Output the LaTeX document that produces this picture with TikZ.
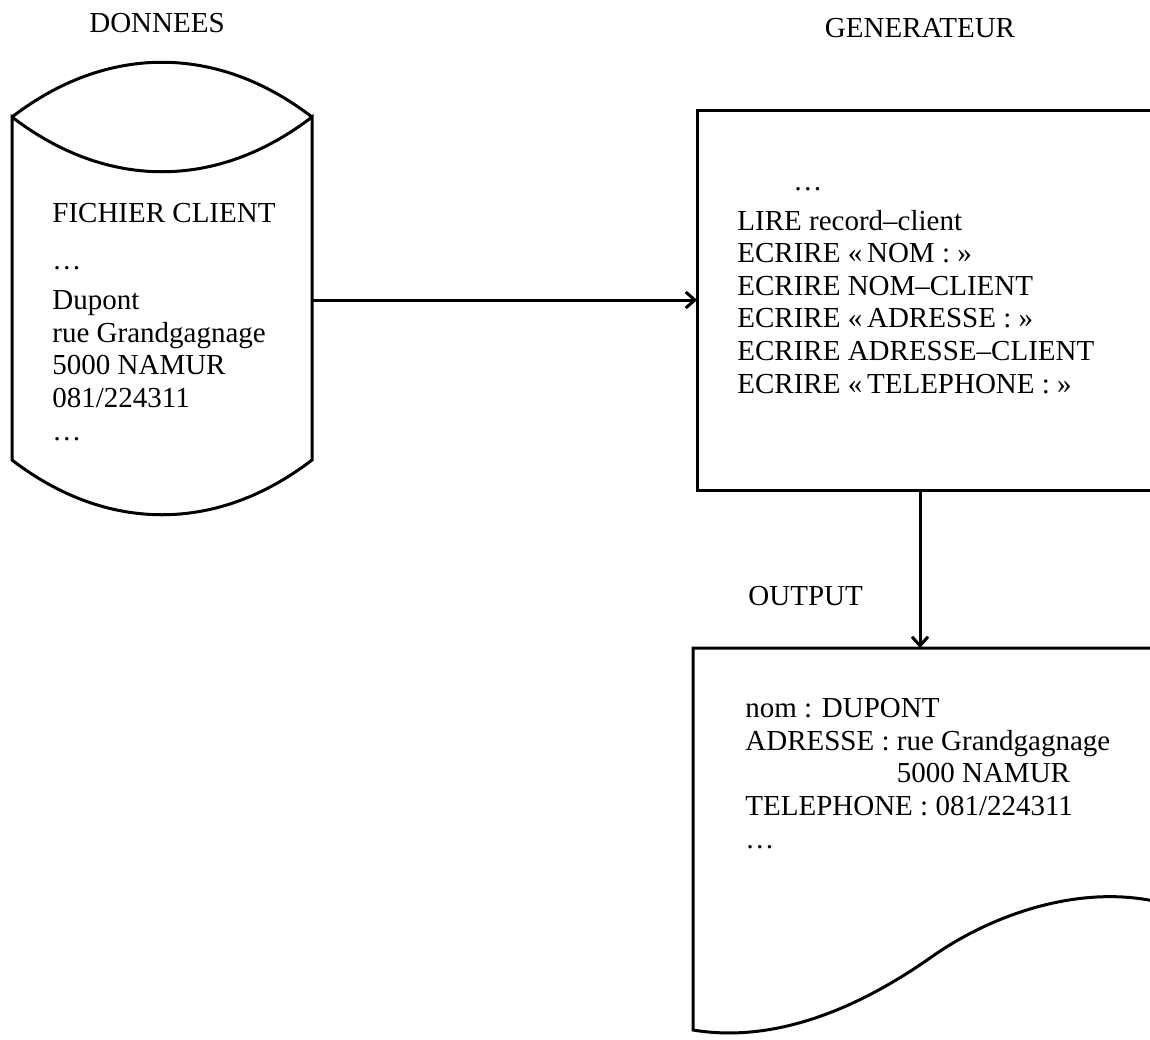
\documentclass[tikz,border=0pt]{standalone}
\usepackage{fontspec}
\setmainfont{Liberation Serif}
\usetikzlibrary{positioning,arrows.meta}
\tikzset{trait/.style={line width=1.5pt}}
\tikzset{fleche/.style={line width=1.5pt,-{Straight Barb[length=4.5pt,width=8pt]}}}
\tikzset{texte/.style={draw=none,fill=none,inner sep=0pt,align=left,font=\fontsize{14.5}{16.3}\selectfont}}
\tikzset{boite/.style={draw=none,inner sep=0pt,outer sep=0pt}}

\begin{document}
\begin{tikzpicture}[x=0.5pt,y=-0.5pt]
            \useasboundingbox (0,0) rectangle (1150,1039);
            \clip (0,0) rectangle (1150,1039);

            \node[boite, minimum width=150pt, minimum height=171.5pt] (donnees) at (162,288.5) {};
            \node[boite, trait, draw, minimum width=235pt, minimum height=190pt, anchor=north west] (gen) at (697,110) {};
            \node[boite, minimum width=240pt, minimum height=191pt, anchor=north west] (output) at (693,648) {};

            \node[texte, anchor=base] (t-donnees) at (157,32) {DONNEES};
            \node[texte, anchor=base] (t-gen) at (920,37) {GENERATEUR};
            \node[texte, anchor=base west] (t-output) at (748,605) {OUTPUT};

            \draw[trait] (donnees.north west) .. controls +(95,-73) and +(-95,-73) .. (donnees.north east);
            \draw[trait] (donnees.north west) .. controls +(95,73) and +(-95,73) .. (donnees.north east)
                -- (donnees.south east) .. controls +(-95,73) and +(95,73) .. (donnees.south west) -- cycle;
            \draw[trait] (output.north east) -- (output.north west) -- (output.south west)
                .. controls +(90,15) and +(-60,42) .. (930,958)
                .. controls +(60,-43) and +(-85,-25) .. (1170,905);

            % base = ligne du bas
            \node[texte, anchor=base west] (fichier) at (52,440)
                {FICHIER CLIENT\\[7.2pt] …\\[3.7pt] Dupont\\ rue Grandgagnage\\ 5000 NAMUR\\ 081/224311\\ …};
            \node[texte, anchor=base west] (prog) at (737,393)
                {\hspace*{28pt}…\\[3.7pt] LIRE record--client\\ ECRIRE «\,NOM : »\\ ECRIRE NOM--CLIENT\\
                 ECRIRE «\,ADRESSE : »\\ ECRIRE ADRESSE--CLIENT\\ ECRIRE «\,TELEPHONE : »};
            \node[texte, anchor=base west] (resultat) at (745,848)
                {nom : DUPONT\\ ADRESSE : rue Grandgagnage\\ \phantom{ADRESSE : }5000 NAMUR\\
                 TELEPHONE : 081/224311\\ …};

            \coordinate (g-bas) at ([xshift=111.5pt]gen.south west);
            \draw[fleche] (donnees.east |- gen.west) -- (gen.west);
            \draw[fleche] (g-bas) -- (g-bas |- output.north);
\end{tikzpicture}
\end{document}
